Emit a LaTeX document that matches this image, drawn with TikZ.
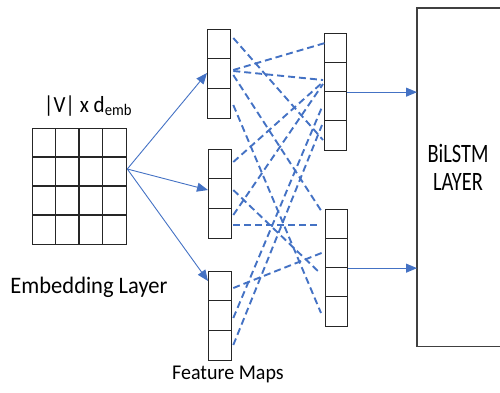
\documentclass[tikz,border=0pt]{standalone}
\usepackage{fontspec}
\setmainfont{Carlito}
\usetikzlibrary{arrows.meta,calc}
\definecolor{linkblue}{HTML}{4472C4}
\tikzset{
  cellbox/.style={draw=black!85, line width=1.3pt, inner sep=0pt, anchor=north west},
  divider/.style={draw=black!85, line width=1.3pt},
  feed/.style={draw=linkblue, line width=0.9pt, -{Triangle[length=11pt,width=9pt]}},
  link/.style={draw=linkblue, line width=1.9pt, dash pattern=on 7pt off 4pt},
  lbl/.style={font=\fontsize{21}{24}\selectfont, inner sep=0pt},
  boxlbl/.style={font=\fontsize{20.4}{24}\selectfont, inner sep=0pt},
}
\begin{document}
\begin{tikzpicture}[x=1pt,y=-1pt]
\useasboundingbox (0,0) rectangle (500,392);

% embedding matrix
\node[cellbox, minimum width=94pt, minimum height=116pt] (emb) at (32,128) {};
\foreach \i in {1,2,3} {
  \draw[divider] ($(emb.north west)+(\i*23.5,0)$) -- ($(emb.south west)+(\i*23.5,0)$);
  \draw[divider] ($(emb.north west)+(0,\i*29)$) -- ($(emb.north east)+(0,\i*29)$);
}
\node[lbl] (vlab) at (88,106) {\scalebox{1}[1.1]{|V| x d\textsubscript{emb}}};
\node[lbl, font=\fontsize{22.5}{26}\selectfont] (emblab) at (89,287) {\scalebox{1}[1.05]{Embedding Layer}};

% feature maps (3 cells)
\node[cellbox, minimum width=23pt, minimum height=89pt] (fm1) at (207,29) {};
\node[cellbox, minimum width=23pt, minimum height=89pt] (fm2) at (208,149) {};
\node[cellbox, minimum width=23pt, minimum height=89pt] (fm3) at (208,271) {};
\foreach \m in {fm1,fm2,fm3} {
  \foreach \i in {1,2} {
    \draw[divider] ($(\m.north west)+(0,\i*29.67)$) -- ($(\m.north east)+(0,\i*29.67)$);
  }
}
\node[lbl, font=\fontsize{20}{24}\selectfont] (fmlab) at (228,374) {\scalebox{1}[1.05]{Feature Maps}};

% pooled maps (4 cells)
\node[cellbox, minimum width=22pt, minimum height=117pt] (rm1) at (324,33) {};
\node[cellbox, minimum width=22pt, minimum height=117pt] (rm2) at (325,209) {};
\foreach \m in {rm1,rm2} {
  \foreach \i in {1,2,3} {
    \draw[divider] ($(\m.north west)+(0,\i*29.25)$) -- ($(\m.north east)+(0,\i*29.25)$);
  }
}

% BiLSTM layer (right side runs off the picture)
\node[inner sep=0pt, minimum width=83pt, minimum height=338pt, anchor=north west] (bil) at (417,8) {};
\draw[black!75, line width=1.1pt] (bil.north east) -- (bil.north west) -- (bil.south west) -- (bil.south east);
\node[boxlbl] (blab1) at (458,153) {\scalebox{1}[1.3]{BiLSTM}};
\node[boxlbl] (blab2) at (458,182) {\scalebox{1}[1.3]{LAYER}};

% solid feeds
\coordinate (src) at ($(emb.north east)+(0,41)$);
\draw[feed] (src) -- ($(fm1.north west)+(0,44)$);
\draw[feed] (src) -- ($(fm2.north west)+(0,41)$);
\draw[feed] (src) -- ($(fm3.north west)+(0,10)$);
\draw[feed] (rm1.east) -- (rm1.east -| bil.west);
\draw[feed] (rm2.east) -- (rm2.east -| bil.west);

% dashed links
\draw[link] ($(fm1.north east)+(2,9)$)  -- ($(rm1.north west)+(-1,107)$);
\draw[link] ($(fm1.north east)+(2,41)$) -- ($(rm1.north west)+(1,10)$);
\draw[link] ($(fm1.north east)+(2,42)$) -- ($(rm1.north west)+(-1,47)$);
\draw[link] ($(fm1.north east)+(2,46)$) -- ($(rm2.north west)+(-3,3)$);
\draw[link] ($(fm1.north east)+(2,76)$) -- ($(rm2.north west)+(-4,104)$);
\draw[link] ($(fm2.north east)+(1,13)$) -- ($(rm1.north west)+(-1,49)$);
\draw[link] ($(fm2.north east)+(1,41)$) -- ($(rm2.north west)+(-5,64)$);
\draw[link] ($(fm2.north east)+(1,66)$) -- ($(rm1.north west)+(-1,51)$);
\draw[link] ($(fm2.north east)+(1,76)$) -- ($(rm2.north west)+(-5,16)$);
\draw[link] ($(fm3.north east)+(1,17)$) -- ($(rm2.north west)+(-1,43)$);
\draw[link] ($(fm3.north east)+(1,47)$) -- ($(rm1.north west)+(-2,74)$);
\draw[link] ($(fm3.north east)+(1,74)$) -- ($(rm1.north west)+(-2,92)$);
\end{tikzpicture}
\end{document}
